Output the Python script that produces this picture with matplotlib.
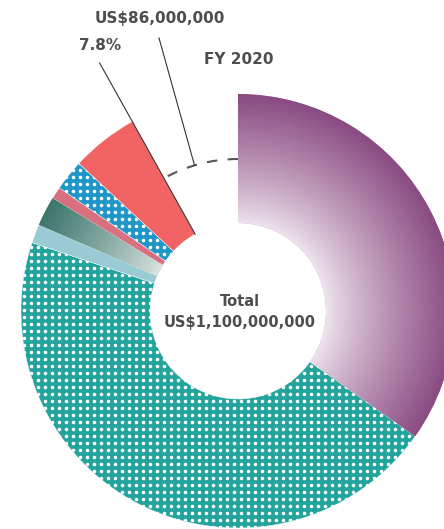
import numpy as np
import matplotlib.pyplot as plt
import matplotlib.colors as mcolors
from matplotlib.patches import Arc

# share of the FY 2020 total in percent, clockwise from 12 o'clock
# (last entry is the empty slice marked with the dashed arc)
shares = [34.8, 45.3, 1.4, 2.2, 0.9, 2.3, 5.0, 8.1]
colors = ['#8a4c82', '#22a39b', '#9acbd4', '#3f7a70', '#d9707f', '#1f96c8', '#f26464', 'none']
dotted = [False, True, False, False, False, True, False, False]
# inner colour -> outer colour for the shaded slices
gradient = {0: ('#efe4ed', '#894a81'), 3: ('#dfe5e3', '#3b766b')}

gap_pct = '7.8%'
gap_amount = 'US$86,000,000'
year_label = 'FY 2020'
total_title = 'Total'
total_amount = 'US$1,100,000,000'

W, H = 444, 529
fig = plt.figure(figsize=(W / 100, H / 100), dpi=100)
ax = fig.add_axes([0, 0, 1, 1])

cx, cy = 238, H - 311
R, r_in = 217, 88
grey = '#4d4d4d'

wedges, _ = ax.pie(shares, colors=colors, startangle=90, counterclock=False,
                   radius=R, center=(cx, cy),
                   wedgeprops=dict(width=R - r_in, edgecolor='white', linewidth=0.3))
wedges[-1].set_visible(False)

# radial shading
yy, xx = np.mgrid[0:H, 0:W] + 0.5
rr = np.hypot(xx - cx, yy - cy)
t = np.clip((rr - r_in) / (R - r_in), 0, 1)[..., None]
for i, (c0, c1) in gradient.items():
    a = np.array(mcolors.to_rgb(c0))
    b = np.array(mcolors.to_rgb(c1))
    img = a + (b - a) * t ** 0.85
    im = ax.imshow(img, extent=(0, W, 0, H), origin='lower', zorder=2,
                   interpolation='bilinear')
    im.set_clip_path(wedges[i])

# white dot texture
gx, gy = np.meshgrid(np.arange(2.5, W, 7), np.arange(2.5, H, 7))
for i, flag in enumerate(dotted):
    if flag:
        sc = ax.scatter(gx.ravel(), gy.ravel(), s=6.5, c='white', linewidths=0, zorder=3)
        sc.set_clip_path(wedges[i])

# dashed arc over the empty slice
gap_end = 90 + 360 * shares[-1] / 100
r_arc = 152
ax.add_patch(Arc((cx, cy), 2 * r_arc, 2 * r_arc, theta1=90, theta2=gap_end,
                 color='#555555', lw=1.5, linestyle=(0, (5, 5)), zorder=4))

# leader lines
a1 = np.deg2rad(gap_end)
ax.plot([cx + 284 * np.cos(a1), cx + r_in * np.cos(a1)],
        [cy + 284 * np.sin(a1), cy + r_in * np.sin(a1)],
        color='#333333', lw=0.8, zorder=5)
a2 = np.deg2rad(90 + 0.57 * (gap_end - 90))
ax.plot([159, cx + r_arc * np.cos(a2)], [H - 38, cy + r_arc * np.sin(a2)],
        color='#333333', lw=0.8, zorder=5)

ax.text(160, H - 19, gap_amount, ha='center', va='center', fontsize=11,
        fontweight='bold', color=grey)
ax.text(100, H - 45, gap_pct, ha='center', va='center', fontsize=11,
        fontweight='bold', color=grey)
ax.text(239, H - 59, year_label, ha='center', va='center', fontsize=11,
        fontweight='bold', color=grey)
ax.text(240, H - 301, total_title, ha='center', va='center', fontsize=10.5,
        fontweight='bold', color=grey)
ax.text(240, H - 323, total_amount, ha='center', va='center', fontsize=10.5,
        fontweight='bold', color=grey)

ax.set_xlim(0, W)
ax.set_ylim(0, H)
ax.axis('off')

fig.savefig('out.png', dpi=100)
